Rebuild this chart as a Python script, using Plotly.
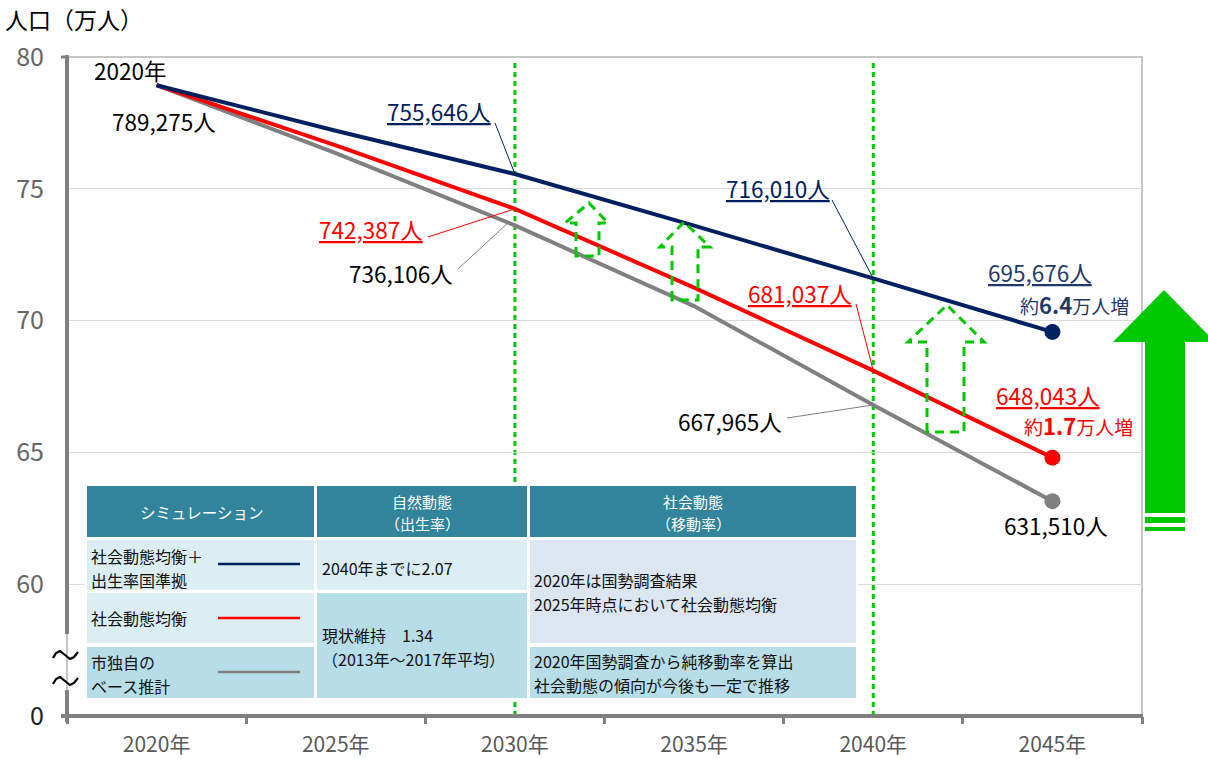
import plotly.graph_objects as go

# ---------------- data ----------------
years = [2020, 2025, 2030, 2035, 2040, 2045]
year_labels = ["2020年", "2025年", "2030年", "2035年", "2040年", "2045年"]
navy_vals = [78.93, 77.20, 75.56, 73.60, 71.60, 69.57]   # 社会動態均衡＋出生率国準拠
red_vals = [78.93, 76.65, 74.24, 71.25, 68.10, 64.80]    # 社会動態均衡
gray_vals = [78.93, 76.35, 73.61, 70.55, 66.80, 63.15]   # 市独自のベース推計
y_tickvals = [55, 60, 65, 70, 75, 80]
y_ticktext = ["<span style='color:#222'>0</span>", "60", "65", "70", "75", "80"]

start_label = "789,275人"
navy_labels = ["755,646人", "716,010人", "695,676人"]
red_labels = ["742,387人", "681,037人", "648,043人"]
gray_labels = ["736,106人", "667,965人", "631,510人"]

NAVY = "#002060"
RED = "#ff0000"
GRAY = "#808080"
GREEN = "#00c800"
FONT = "Noto Sans CJK JP"

# pixel helpers (figure 1208x759, plot area 67..1142 x 57..716)
X0, W, Y0, H = 67, 1075, 57, 659
XMIN, XMAX, YMIN, YMAX = 2017.5, 2047.5, 55, 80


def px(x):
    return (x - X0) / W


def py(y):
    return 1 - (y - Y0) / H


def dx(x):
    return XMIN + (x - X0) / W * (XMAX - XMIN)


def dy(y):
    return YMAX - (y - Y0) / H * (YMAX - YMIN)


def ppath(pts, close=True):
    s = "M " + " L ".join(f"{px(a):.5f},{py(b):.5f}" for a, b in pts)
    return s + (" Z" if close else "")


fig = go.Figure()
for vals, col in [(gray_vals, GRAY), (red_vals, RED), (navy_vals, NAVY)]:
    fig.add_trace(go.Scatter(x=years, y=vals, mode="lines",
                             line=dict(color=col, width=4), hoverinfo="skip"))
    fig.add_trace(go.Scatter(x=years[-1:], y=vals[-1:], mode="markers",
                             marker=dict(color=col, size=16), hoverinfo="skip"))

shapes = []
# frame top/right
shapes.append(dict(type="rect", xref="paper", yref="paper", x0=0, x1=1, y0=0, y1=1,
                   line=dict(color="#b4b4b4", width=1.5), layer="below"))
# green dotted verticals at 2030 / 2040
for yr in (2030, 2040):
    shapes.append(dict(type="line", xref="x", yref="y", x0=yr, x1=yr, y0=YMIN, y1=dy(62),
                       line=dict(color=GREEN, width=3, dash="5px,4px"), layer="below"))
# axes (left axis with break)
shapes += [
    dict(type="line", xref="paper", yref="paper", x0=px(X0), x1=px(X0), y0=py(55), y1=py(634),
         line=dict(color=GRAY, width=4), layer="above"),
    dict(type="line", xref="paper", yref="paper", x0=px(X0), x1=px(X0), y0=py(690), y1=py(722),
         line=dict(color=GRAY, width=4), layer="above"),
    dict(type="line", xref="paper", yref="paper", x0=px(61), x1=px(X0), y0=py(57), y1=py(57),
         line=dict(color=GRAY, width=3), layer="above"),
    dict(type="line", xref="paper", yref="paper", x0=px(61), x1=px(1143), y0=py(716), y1=py(716),
         line=dict(color=GRAY, width=4), layer="above"),
]
# axis break marks (two tilde waves)
for cy in (655, 681):
    wave = [(53, cy + 3), (56, cy - 2), (60, cy - 4), (65, cy), (70, cy + 4), (74, cy + 2), (78, cy - 3)]
    shapes.append(dict(type="path", xref="paper", yref="paper", path=ppath(wave, close=False),
                       line=dict(color="#000000", width=2.2), layer="above"))

# leader lines (start at label underline end, end on the data point)
leaders = [
    (495, 123, 2030, navy_vals[2], NAVY),
    (428, 237, 2030, red_vals[2], RED),
    (458, 269, 2029.85, gray_vals[2] + 0.15, GRAY),
    (832, 200, 2040, navy_vals[4], NAVY),
    (856, 304, 2040, red_vals[4], RED),
    (787, 418, 2040, gray_vals[4], GRAY),
]
for sx, sy, ex, ey, col in leaders:
    shapes.append(dict(type="line", xref="x", yref="y", x0=dx(sx), y0=dy(sy), x1=ex, y1=ey,
                       line=dict(color=col, width=1), layer="above"))

# dashed green arrows
dashed_arrows = [
    [(576, 256), (576, 223), (565, 223), (589, 203), (608, 223), (599, 223), (599, 256)],
    [(672, 300), (672, 247), (660, 247), (684, 222), (710, 247), (698, 247), (698, 300)],
    [(927, 432), (927, 342), (908, 342), (947, 305), (984, 342), (964, 342), (964, 432)],
]
for pts in dashed_arrows:
    shapes.append(dict(type="path", xref="paper", yref="paper", path=ppath(pts),
                       line=dict(color=GREEN, width=3, dash="9px,6px"),
                       fillcolor="rgba(0,0,0,0)", layer="above"))

# big solid arrow at right
big = [(1145, 513), (1145, 342), (1113, 342), (1164, 290), (1215, 342), (1185, 342), (1185, 513)]
shapes.append(dict(type="path", xref="paper", yref="paper", path=ppath(big),
                   fillcolor=GREEN, line=dict(width=0), layer="above"))
for y0_, y1_ in [(517, 523), (527, 531)]:
    shapes.append(dict(type="rect", xref="paper", yref="paper", x0=px(1145), x1=px(1185),
                       y0=py(y1_), y1=py(y0_), fillcolor=GREEN, line=dict(width=0), layer="above"))

# table
HEAD = "#31849b"
LIGHT = "#daeef3"
PALE = "#dce6f1"
MID = "#b7dee8"
cells = [
    (84, 858, 483, 701, "#ffffff"),
    (87, 314, 486, 537, HEAD), (317, 527, 486, 537, HEAD), (530, 856, 486, 537, HEAD),
    (87, 314, 540, 590, LIGHT), (317, 527, 540, 590, LIGHT), (530, 856, 540, 643, PALE),
    (87, 314, 593, 643, LIGHT), (317, 527, 593, 698, MID),
    (87, 314, 647, 698, MID), (530, 856, 647, 698, MID),
]
for x0_, x1_, y0_, y1_, col in cells:
    shapes.append(dict(type="rect", xref="paper", yref="paper", x0=px(x0_), x1=px(x1_),
                       y0=py(y1_), y1=py(y0_), fillcolor=col, line=dict(width=0), layer="above"))
for yy, col in [(564, NAVY), (618, RED), (672, GRAY)]:
    shapes.append(dict(type="line", xref="paper", yref="paper", x0=px(218), x1=px(300),
                       y0=py(yy), y1=py(yy), line=dict(color=col, width=2.5), layer="above"))

ann = []


def txt(x, y, text, size=19, color="#000", xanchor="center", align="center"):
    ann.append(dict(xref="paper", yref="paper", x=px(x), y=py(y), text=text, showarrow=False,
                    xanchor=xanchor, yanchor="middle", align=align, borderpad=0,
                    font=dict(family=FONT, size=size, color=color)))


def lines(x, y, texts, size, color, xanchor="left", gap=23.5):
    n = len(texts)
    for i, t in enumerate(texts):
        yy = y + (i - (n - 1) / 2) * gap
        txt(x, yy, t, size, color, xanchor, xanchor)


LBL = 22.5
txt(4, 19, "人口（万人）", 23, xanchor="left")
txt(130, 70, "2020年", LBL)
txt(164, 121, start_label, LBL)
txt(439, 111, f"<u>{navy_labels[0]}</u>", LBL, NAVY)
txt(371, 229, f"<u>{red_labels[0]}</u>", LBL, RED)
txt(401, 273, gray_labels[0], LBL)
txt(778, 188, f"<u>{navy_labels[1]}</u>", LBL, NAVY)
txt(800, 293, f"<u>{red_labels[1]}</u>", LBL, RED)
txt(730, 421, gray_labels[1], LBL)
txt(1040, 272, f"<u>{navy_labels[2]}</u>", LBL, "#1f3a68")
txt(1074, 304, "約<b><span style='font-size:22px'>6.4</span></b>万人増", 19, "#1f3a68")
txt(1048, 395, f"<u>{red_labels[2]}</u>", LBL, RED)
txt(1078, 425, "約<b><span style='font-size:22px'>1.7</span></b>万人増", 19, RED)
txt(1056, 525, gray_labels[2], LBL)

# table text
TB = 16
HD = 15
txt(201, 512, "シミュレーション", 15.5, "#fff")
lines(422, 512, ["自然動態", "（出生率）"], HD, "#fff", "center", gap=22)
lines(693, 512, ["社会動態", "（移動率）"], HD, "#fff", "center", gap=22)
lines(90, 568, ["社会動態均衡＋", "出生率国準拠"], TB, "#111")
txt(90, 618, "社会動態均衡", TB, "#111", "left", "left")
lines(90, 674, ["市独自の", "ベース推計"], TB, "#111")
txt(321, 568, "2040年までに2.07", TB, "#111", "left", "left")
lines(321, 647, ["現状維持　1.34", "（2013年～2017年平均）"], TB, "#111")
lines(533, 592, ["2020年は国勢調査結果", "2025年時点において社会動態均衡"], TB, "#111")
lines(533, 673, ["2020年国勢調査から純移動率を算出", "社会動態の傾向が今後も一定で推移"], TB, "#111")

fig.update_layout(
    width=1208, height=759,
    margin=dict(l=X0, r=1208 - X0 - W, t=Y0, b=759 - Y0 - H, autoexpand=False),
    paper_bgcolor="#ffffff", plot_bgcolor="#ffffff",
    showlegend=False,
    shapes=shapes, annotations=ann,
    font=dict(family=FONT),
    xaxis=dict(range=[XMIN, XMAX], tickvals=years, ticktext=year_labels, ticks="",
               showgrid=False, zeroline=False, showline=False, automargin=False,
               tickfont=dict(family=FONT, size=21, color="#595959"), ticklabelstandoff=14,
               minor=dict(tick0=XMIN, dtick=5, ticks="outside", ticklen=7, tickwidth=3,
                          tickcolor=GRAY, showgrid=False)),
    yaxis=dict(range=[YMIN, YMAX], tickvals=y_tickvals, ticktext=y_ticktext, ticks="",
               showgrid=True, gridcolor="#d9d9d9", gridwidth=1, zeroline=False, showline=False,
               automargin=False,
               tickfont=dict(family=FONT, size=25, color="#666666"), ticklabelstandoff=22),
)

fig.write_html("out.html", config={"displayModeBar": False},
               post_script="document.body.style.margin='0px';")
